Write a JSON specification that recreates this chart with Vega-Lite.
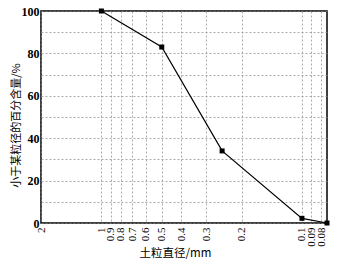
{
  "$schema": "https://vega.github.io/schema/vega-lite/v6.json",
  "width": 286,
  "height": 212,
  "autosize": "none",
  "padding": {"left": 41, "top": 11, "right": 10, "bottom": 39},
  "background": "white",
  "config": {
    "view": {"stroke": "#000", "strokeWidth": 1.5},
    "axis": {"labelFont": "Liberation Serif", "titleFont": "Noto Sans CJK SC", "labelColor": "#000", "titleColor": "#000", "gridColor": "#888", "gridDash": [2, 2], "gridWidth": 0.7, "domain": false, "ticks": false}
  },
  "data": {"values": [
    {"d": 1, "p": 100},
    {"d": 0.5, "p": 83},
    {"d": 0.25, "p": 34},
    {"d": 0.1, "p": 2.2},
    {"d": 0.075, "p": 0}
  ]},
  "encoding": {
    "x": {"field": "d", "type": "quantitative",
      "scale": {"type": "log", "domain": [2, 0.075], "nice": false},
      "axis": {"values": [2, 1, 0.9, 0.8, 0.7, 0.6, 0.5, 0.4, 0.3, 0.2, 0.1, 0.09, 0.08], "labelAngle": -90, "labelAlign": "right", "labelBaseline": "middle", "labelFontSize": 11, "labelPadding": 4, "title": "土粒直径/mm", "titleFontSize": 11.5, "titleFontWeight": "normal", "titlePadding": 1, "titleX": 134, "labelFlush": false, "labelOverlap": false, "format": "~g"}},
    "y": {"field": "p", "type": "quantitative",
      "scale": {"domain": [0, 100], "nice": false},
      "axis": {"values": [0, 10, 20, 30, 40, 50, 60, 70, 80, 90, 100], "labelExpr": "datum.value % 20 == 0 ? datum.label : ''", "labelFontSize": 12, "labelFontWeight": "bold", "labelPadding": 2, "title": "小于某粒径的百分含量/%", "titleFontSize": 11, "titleFontWeight": "normal", "titlePadding": 0, "titleY": 114, "labelFlush": false}}
  },
  "layer": [
    {"mark": {"type": "line", "color": "#000", "strokeWidth": 1.2}},
    {"mark": {"type": "square", "color": "#000", "filled": true, "opacity": 1, "size": 25}}
  ]
}
